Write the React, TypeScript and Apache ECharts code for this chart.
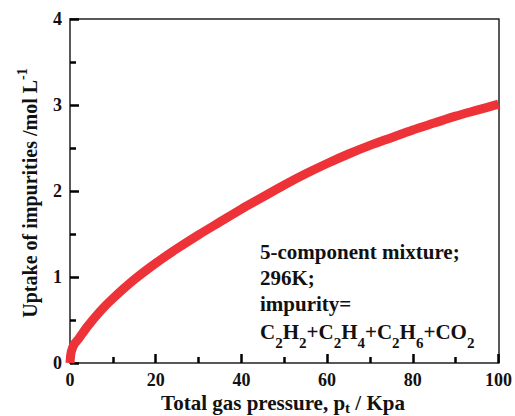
import React, { useEffect, useRef } from "react";
import * as echarts from "echarts";

const pressure = [0, 0.3, 1, 2, 4, 7, 10, 15, 20, 25, 30, 35, 40, 45, 50, 55, 60, 65, 70, 75, 80, 85, 90, 95, 100];
const uptake = [0, 0.13, 0.22, 0.28, 0.42, 0.6, 0.75, 0.97, 1.16, 1.33, 1.49, 1.64, 1.79, 1.93, 2.07, 2.2, 2.32, 2.43, 2.53, 2.62, 2.71, 2.79, 2.87, 2.94, 3.01];

const xTicks = [0, 20, 40, 60, 80, 100];
const yTicks = [0, 1, 2, 3, 4];

const annotationLines = [
  "5-component mixture;",
  "296K;",
  "impurity=",
  "C{s|2}H{s|2}+C{s|2}H{s|4}+C{s|2}H{s|6}+CO{s|2}",
];
const annotationY = [252, 278, 304, 332];

const FONT = "'Liberation Serif', 'Times New Roman', serif";
const AXIS_COLOR = "#000000";

export default function App() {
  const ref = useRef<HTMLDivElement>(null);
  useEffect(() => {
    if (!ref.current) return;
    const chart = echarts.init(ref.current, undefined, { renderer: "svg" });
    const labelStyle = { fontFamily: FONT, fontWeight: "bold" as const, fontSize: 18, color: "#111" };
    const rich = {
      s: { fontFamily: FONT, fontWeight: "bold", fontSize: 15, padding: [22, 0, 0, 0], fill: "#111" },
      t: { fontFamily: FONT, fontWeight: "bold", fontSize: 15, padding: [10, 0, 0, 0], fill: "#111" },
      u: { fontFamily: FONT, fontWeight: "bold", fontSize: 14, padding: [0, 0, 16, 0], fill: "#111" },
    };
    const frame = { show: true, onZero: false, lineStyle: { color: "#222", width: 1.5 } };
    const mainAxis = (min: number, max: number, interval: number) => ({
      type: "value" as const,
      min, max, interval,
      axisLine: frame,
      axisTick: { show: true, inside: true, length: 9, lineStyle: { color: AXIS_COLOR, width: 2.5 } },
      minorTick: { show: true, splitNumber: 2, length: 6, lineStyle: { color: AXIS_COLOR, width: 2.5 } },
      splitLine: { show: false },
      minorSplitLine: { show: false },
      axisLabel: { ...labelStyle, margin: 8, showMinLabel: true, showMaxLabel: true },
    });
    const frameAxis = (min: number, max: number, position: string) => ({
      type: "value" as const,
      min, max, position,
      axisLine: frame,
      axisTick: { show: false },
      axisLabel: { show: false },
      splitLine: { show: false },
    });
    chart.setOption({
      animation: false,
      backgroundColor: "#fff",
      grid: { left: 70, right: 15, top: 19, bottom: 53 },
      xAxis: [
        mainAxis(xTicks[0], xTicks[xTicks.length - 1], 20),
        frameAxis(xTicks[0], xTicks[xTicks.length - 1], "top"),
      ],
      yAxis: [
        mainAxis(yTicks[0], yTicks[yTicks.length - 1], 1),
        frameAxis(yTicks[0], yTicks[yTicks.length - 1], "right"),
      ],
      series: [
        {
          type: "line",
          data: pressure.map((p, i) => [p, uptake[i]]),
          smooth: 0.3,
          showSymbol: false,
          clip: true,
          lineStyle: { color: "#ee3338", width: 9 },
        },
      ],
      graphic: [
        {
          type: "text",
          x: 283, y: 403,
          style: {
            text: "Total gas pressure, p{t|t} / Kpa",
            font: `bold 21px ${FONT}`,
            fill: "#111",
            align: "center",
            verticalAlign: "middle",
            rich,
          },
        },
        {
          type: "text",
          x: 30, y: 193,
          rotation: Math.PI / 2,
          style: {
            text: "Uptake of impurities /mol L{u|-1}",
            font: `bold 20px ${FONT}`,
            fill: "#111",
            align: "center",
            verticalAlign: "middle",
            rich,
          },
        },
        ...annotationLines.map((t, i) => ({
          type: "text",
          x: 260,
          y: annotationY[i],
          style: {
            text: t,
            font: `bold 21px ${FONT}`,
            fill: "#111",
            align: "left",
            verticalAlign: "middle",
            rich,
          },
        })),
      ],
    });
    return () => chart.dispose();
  }, []);
  return <div ref={ref} style={{ position: "absolute", left: 0, top: 0, width: 515, height: 416 }} />;
}
